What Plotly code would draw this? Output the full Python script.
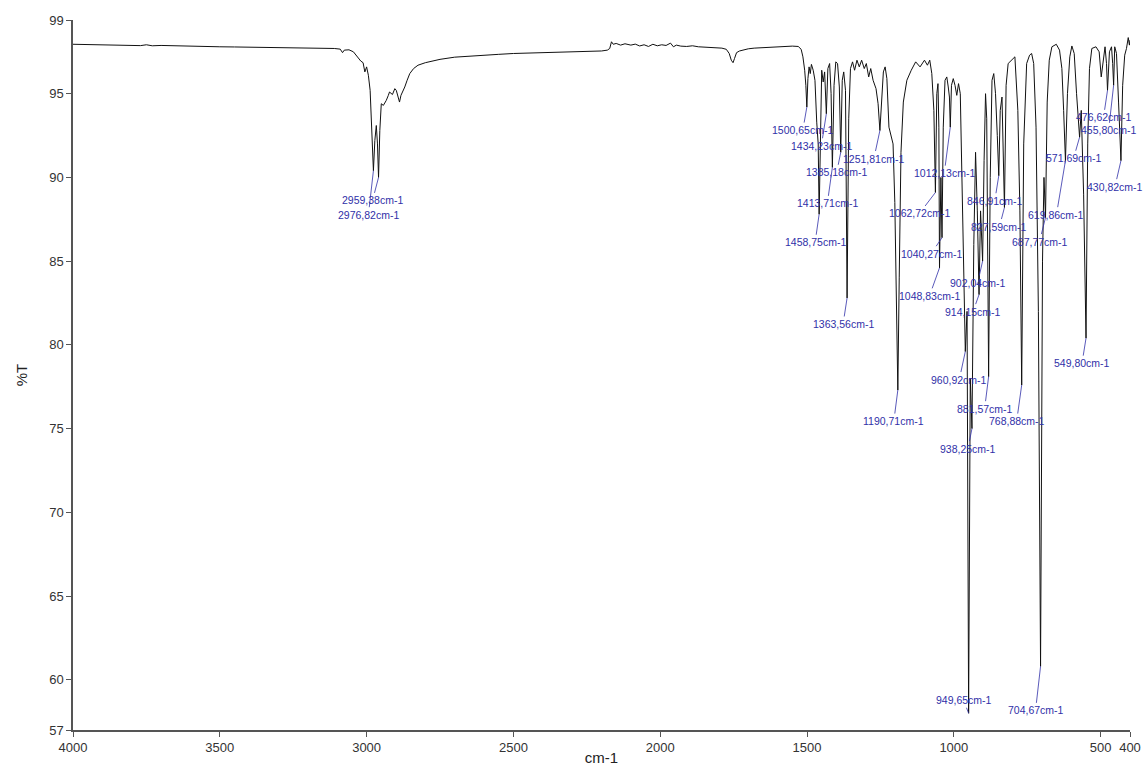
import plotly.graph_objects as go

# IR transmission spectrum: wavenumber (cm-1) and %T
wavenumber = [
    4000, 3950, 3900, 3850, 3800, 3770, 3750, 3730, 3700, 3650, 3600, 3550, 3500, 3450,
    3400, 3350, 3300, 3250, 3200, 3150, 3110, 3090, 3082, 3076, 3060, 3045, 3032, 3020,
    3012, 3006, 3000, 2994, 2988, 2983, 2976.82, 2972, 2967, 2963, 2959.38, 2955, 2950,
    2943, 2933, 2926, 2922, 2912, 2904, 2899, 2893, 2888, 2883, 2877, 2870, 2862, 2853,
    2840, 2825, 2800, 2775, 2750, 2700, 2650, 2600, 2550, 2500, 2450, 2400, 2350, 2300,
    2250, 2200, 2180, 2172, 2166, 2160, 2150, 2135, 2120, 2100, 2085, 2070, 2055, 2040,
    2025, 2010, 1995, 1980, 1965, 1955, 1945, 1930, 1910, 1890, 1870, 1850, 1830, 1810,
    1790, 1775, 1765, 1758, 1752, 1747, 1740, 1730, 1715, 1700, 1680, 1650, 1620, 1600,
    1575, 1550, 1530, 1520, 1514, 1508, 1504, 1500.65, 1497, 1493, 1489, 1485, 1479,
    1473, 1467, 1462, 1458.75, 1455, 1450, 1445, 1440, 1434.23, 1429, 1423, 1418,
    1413.71, 1408, 1402, 1396, 1390, 1385.18, 1380, 1375, 1369, 1363.56, 1358, 1352,
    1345, 1338, 1330, 1322, 1314, 1305, 1298, 1290, 1283, 1275, 1265, 1258, 1251.81,
    1246, 1240, 1234, 1228, 1221, 1214, 1207, 1201, 1195, 1190.71, 1186, 1180, 1172,
    1160, 1145, 1130, 1115, 1100, 1090, 1082, 1075, 1068, 1062.72, 1058, 1054, 1051,
    1048.83, 1044, 1040.27, 1036, 1030, 1024, 1019, 1015, 1012.13, 1008, 1002, 996, 990,
    984, 978, 972, 966, 960.92, 955, 949.65, 944, 938.25, 932, 926, 920, 914.15, 909,
    902.04, 897, 892, 888, 881.57, 876, 870, 864, 858, 852, 846.91, 842, 836, 827.59,
    822, 815, 805, 792, 782, 775, 768.88, 762, 752, 742, 735, 728, 720, 712, 704.67, 698,
    693, 687.77, 682, 675, 666, 651, 640, 632, 626, 619.86, 613, 605, 598, 590, 582, 576,
    571.69, 566, 558, 549.80, 544, 538, 530, 516, 505, 498, 492, 485, 480, 476.62, 470,
    463, 459, 455.80, 452, 446, 439, 430.82, 425, 418, 412, 406, 402, 400,
]
transmittance = [
    97.95, 97.94, 97.92, 97.90, 97.91, 97.87, 97.92, 97.86, 97.88, 97.85, 97.84, 97.82, 97.80, 97.79,
    97.78, 97.77, 97.76, 97.75, 97.74, 97.72, 97.70, 97.66, 97.45, 97.60, 97.62, 97.50, 97.20, 96.95,
    96.85, 96.30, 96.60, 96.10, 95.20, 93.00, 90.40, 92.20, 93.10, 92.00, 90.00, 92.80, 94.40,
    94.30, 94.60, 94.90, 95.10, 94.95, 95.30, 95.20, 94.80, 94.50, 94.90, 95.10, 95.40, 95.80, 96.20,
    96.50, 96.70, 96.85, 96.95, 97.05, 97.18, 97.25, 97.30, 97.35, 97.40, 97.42, 97.45, 97.48, 97.50,
    97.52, 97.55, 97.60, 97.70, 98.10, 97.95, 98.00, 97.90, 97.98, 97.90, 97.96, 97.85, 97.92, 97.82,
    97.95, 97.86, 97.92, 97.88, 98.02, 97.80, 97.90, 97.84, 97.82, 97.86, 97.80, 97.78, 97.76, 97.74,
    97.72, 97.65, 97.40, 97.00, 96.85, 97.10, 97.45, 97.55, 97.62, 97.68, 97.72, 97.75, 97.78, 97.80,
    97.82, 97.84, 97.82, 97.65, 97.20, 96.40, 95.50, 94.20, 95.90, 96.60, 96.20, 96.75, 96.40,
    95.80, 93.30, 92.00, 87.80, 92.80, 96.40, 95.70, 96.30, 93.80, 96.50, 96.80, 95.00,
    90.60, 95.50, 96.90, 96.80, 95.40, 91.50, 95.80, 96.30, 95.20, 82.80, 93.50, 96.50,
    96.90, 96.40, 97.00, 96.60, 97.00, 96.50, 96.80, 96.00, 96.50, 95.80, 95.30, 94.40, 92.80,
    94.80, 96.30, 96.60, 95.90, 93.00, 92.40, 92.00, 88.50, 82.50, 77.30, 84.00, 91.50, 94.50,
    95.80, 96.40, 96.90, 96.60, 97.00, 96.70, 97.00, 96.20, 94.00, 89.10, 95.00, 95.60, 93.00,
    84.60, 90.00, 86.40, 93.00, 95.80, 96.00, 95.40, 94.80, 93.00, 95.50, 95.90, 95.50, 94.90,
    95.60, 95.00, 90.00, 83.00, 79.60, 82.00, 58.00, 78.00, 75.00, 86.00, 91.50, 88.00, 83.00, 88.00,
    85.00, 91.00, 95.00, 93.50, 78.10, 90.00, 95.80, 96.20, 95.00, 92.50, 90.10, 94.00, 94.80, 88.20,
    95.50, 96.80, 97.00, 97.20, 94.00, 88.00, 77.60, 92.00, 96.80, 97.30, 97.40, 96.80, 93.00, 82.00, 60.80, 85.00,
    90.00, 87.60, 94.50, 97.00, 97.80, 97.95, 97.60, 96.50, 94.00, 91.00, 95.00, 97.20, 97.85, 97.40, 95.00, 93.50,
    92.40, 94.00, 89.00, 80.40, 92.00, 96.50, 97.70, 97.80, 97.50, 96.00, 97.00, 97.80, 96.80, 95.20, 97.50,
    97.80, 96.80, 95.50, 97.80, 97.40, 94.50, 91.00, 95.50, 97.30, 97.70, 98.35, 97.90, 98.20,
]

# Labelled absorption bands (cm-1)
peak_labels = [
    2959.38, 2976.82, 1500.65, 1458.75, 1434.23, 1413.71, 1385.18, 1363.56, 1251.81,
    1190.71, 1062.72, 1048.83, 1040.27, 1012.13, 960.92, 949.65, 938.25, 914.15,
    902.04, 881.57, 846.91, 827.59, 768.88, 704.67, 687.77, 619.86, 571.69, 549.80,
    476.62, 455.80, 430.82,
]
# Pixel offset of each label from its band minimum
label_dx = [-6, -5, -4, -4, -5, -5, -4, -4, -6, -4, -16, -10, -11, -6, -6, -5, -4, -6,
            -5, -4, -4, -5, -5, -5, -6, -9, -6, -4, -4, -5, -6]
label_dy = [23, 44, 23, 28, 32, 36, 20, 26, 28, 31, 21, 28, 16, 46, 28, -13, 20, 17,
            22, 32, 25, 19, 36, 44, 24, 54, 21, 25, 27, 45, 26]

x_ticks = [4000, 3500, 3000, 2500, 2000, 1500, 1000, 500, 400]
y_ticks = [57, 60, 65, 70, 75, 80, 85, 90, 95, 99.4]
y_ticktext = ["57", "60", "65", "70", "75", "80", "85", "90", "95", "99"]

label_color = "rgb(48,48,168)"
axis_color = "#555555"
font_family = "Arial, Liberation Sans, sans-serif"

fig = go.Figure()
fig.add_trace(go.Scatter(
    x=wavenumber, y=transmittance, mode="lines",
    line=dict(color="#111111", width=1), hoverinfo="x+y", showlegend=False,
))

lookup = dict(zip(wavenumber, transmittance))
for wn, dx, dy in zip(peak_labels, label_dx, label_dy):
    fig.add_annotation(
        x=wn, y=lookup[wn],
        text=f"{wn:.2f}".replace(".", ",") + "cm-1",
        showarrow=True, arrowhead=0, arrowwidth=0.8, arrowcolor=label_color,
        ax=dx, ay=dy, standoff=0,
        font=dict(family=font_family, size=10.5, color=label_color),
    )

fig.update_layout(
    width=1143, height=766,
    margin=dict(l=73, r=13, t=20, b=36),
    paper_bgcolor="white", plot_bgcolor="white",
    font=dict(family=font_family, color="#333333"),
    xaxis=dict(
        range=[4000, 400], tickvals=x_ticks, ticktext=[str(t) for t in x_ticks],
        automargin=False,
        showgrid=False, zeroline=False, showline=True, linecolor=axis_color,
        linewidth=1.5, ticks="outside", ticklen=5, tickcolor=axis_color,
        tickfont=dict(size=13, color="#333333"),
        title=dict(text="cm-1", font=dict(size=15, color="#222222"), standoff=0),
    ),
    yaxis=dict(
        range=[57, 99.4], tickvals=y_ticks, ticktext=y_ticktext,
        automargin=False,
        showgrid=False, zeroline=False, showline=True, linecolor=axis_color,
        linewidth=1.5, ticks="outside", ticklen=5, tickcolor=axis_color,
        tickfont=dict(size=13, color="#333333"),
        title=dict(text="%T", font=dict(size=15, color="#222222"), standoff=18),
    ),
)

fig.write_html("out.html")
